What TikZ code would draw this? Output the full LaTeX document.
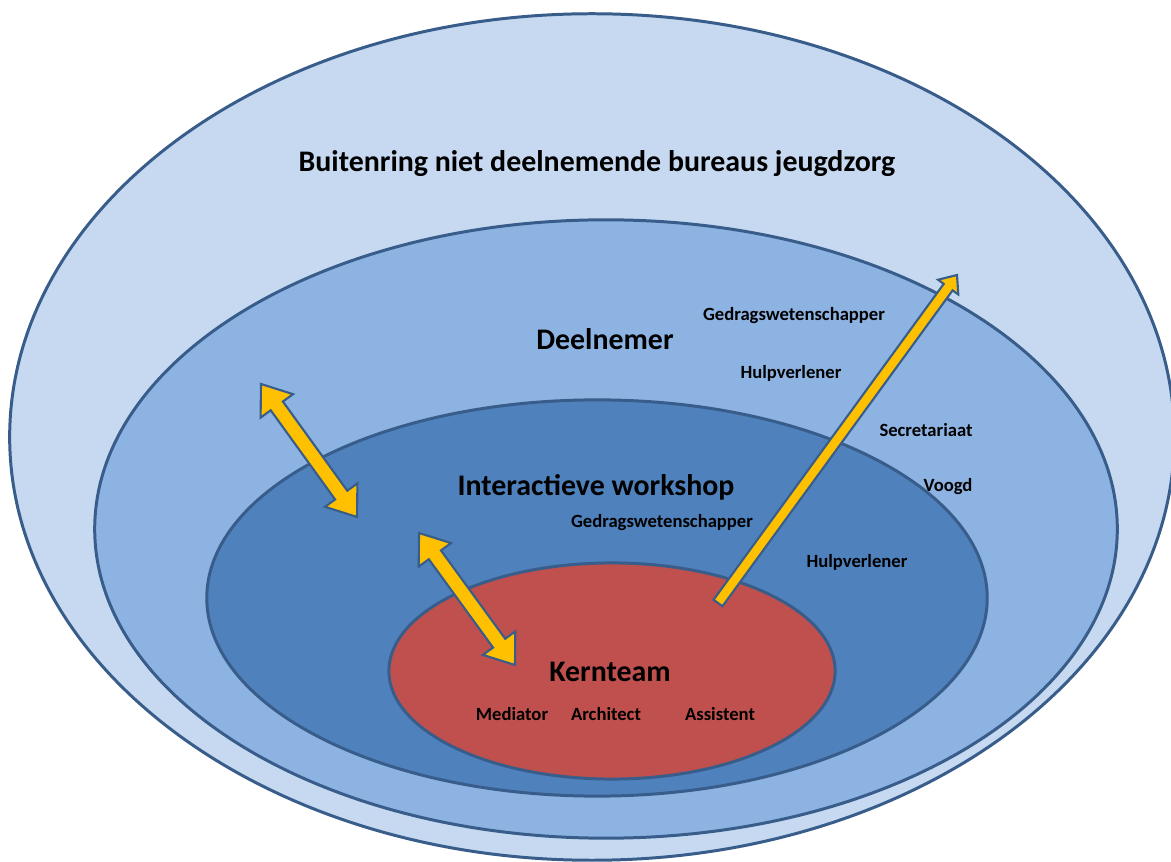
\documentclass[tikz,border=0pt]{standalone}
\usepackage{fontspec}
\setmainfont{Carlito}
\usetikzlibrary{shapes.geometric,calc}

\definecolor{ringouter}{HTML}{C6D9F1}
\definecolor{ringmid}{HTML}{8DB3E2}
\definecolor{ringinner}{HTML}{4F81BD}
\definecolor{corered}{HTML}{C0504D}
\definecolor{edgeblue}{HTML}{385D8A}
\definecolor{arrowgold}{HTML}{FFC000}

\tikzset{
  ring/.style={ellipse, draw=edgeblue, line width=0.85pt, inner sep=0pt},
  bigtitle/.style={font=\fontsize{8.5pt}{10pt}\selectfont\bfseries, inner sep=0pt},
  role/.style={font=\fontsize{5.3pt}{6pt}\selectfont\bfseries, inner sep=0pt},
  blockarrow/.style={fill=arrowgold, draw=edgeblue, line width=0.6pt, line join=miter},
}

% block arrow with heads at both ends: from, to, shaft half width, head half width, head length
\newcommand{\twowayarrow}[5]{%
  \draw[blockarrow] let \p1=($(#2)-(#1)$), \n1={atan2(\y1,\x1)} in
    (#1) -- ($(#1)+(\n1:#5)+(\n1+90:#4)$) -- ($(#1)+(\n1:#5)+(\n1+90:#3)$)
    -- ($(#2)+(\n1+180:#5)+(\n1+90:#3)$) -- ($(#2)+(\n1+180:#5)+(\n1+90:#4)$)
    -- (#2) -- ($(#2)+(\n1+180:#5)+(\n1-90:#4)$) -- ($(#2)+(\n1+180:#5)+(\n1-90:#3)$)
    -- ($(#1)+(\n1:#5)+(\n1-90:#3)$) -- ($(#1)+(\n1:#5)+(\n1-90:#4)$) -- cycle;
}
% block arrow with a single head at the second point
\newcommand{\onewayarrow}[5]{%
  \draw[blockarrow] let \p1=($(#2)-(#1)$), \n1={atan2(\y1,\x1)} in
    ($(#1)+(\n1+90:#3)$)
    -- ($(#2)+(\n1+180:#5)+(\n1+90:#3)$) -- ($(#2)+(\n1+180:#5)+(\n1+90:#4)$)
    -- (#2) -- ($(#2)+(\n1+180:#5)+(\n1-90:#4)$) -- ($(#2)+(\n1+180:#5)+(\n1-90:#3)$)
    -- ($(#1)+(\n1-90:#3)$) -- cycle;
}

\begin{document}
\begin{tikzpicture}[x=0.01cm, y=-0.01cm]
  \useasboundingbox (0,0) rectangle (1171,862);
  \clip (0,0) rectangle (1171,862);

  % nested rings
  \node[ring, fill=ringouter, minimum width=11.64cm, minimum height=8.46cm] (outer) at (592,437) {};
  \node[ring, fill=ringmid,   minimum width=10.22cm, minimum height=6.18cm] (mid)   at (606,529) {};
  \node[ring, fill=ringinner, minimum width=7.80cm,  minimum height=3.96cm] (inner) at (597,598) {};

  % arrow between participants and workshop
  \coordinate (a1s) at (261,384);
  \coordinate (a1e) at (357,517);
  \twowayarrow{a1s}{a1e}{0.075cm}{0.20cm}{0.27cm}

  % core team
  \node[ring, fill=corered, minimum width=4.46cm, minimum height=2.16cm] (core) at (612,671) {};

  % arrow between workshop and core team
  \coordinate (a2s) at (419,533);
  \coordinate (a2e) at (515,665);
  \twowayarrow{a2s}{a2e}{0.075cm}{0.20cm}{0.27cm}

  % arrow from core team outwards
  \coordinate (a3s) at (718,603);
  \coordinate (a3e) at (957,275);
  \onewayarrow{a3s}{a3e}{0.055cm}{0.125cm}{0.15cm}

  % ring titles
  \node[bigtitle] (tOuter) at (597,164) {Buitenring niet deelnemende bureaus jeugdzorg};
  \node[bigtitle] (tMid)   at (605,339) {Deelnemer};
  \node[bigtitle] (tInner) at (596,487) {Interactieve workshop};
  \node[bigtitle] (tCore)  at (610,672) {Kernteam};

  % roles
  \node[role] (rMidG)  at (794,316) {Gedragswetenschapper};
  \node[role] (rMidH)  at (791,373) {Hulpverlener};
  \node[role] (rMidS)  at (926,430) {Secretariaat};
  \node[role] (rMidV)  at (948,487) {Voogd};
  \node[role] (rInG)   at (662,523) {Gedragswetenschapper};
  \node[role] (rInH)   at (857,562) {Hulpverlener};
  \node[role] (rCoreM) at (512,714) {Mediator};
  \node[role] (rCoreA) at (606,714) {Architect};
  \node[role] (rCoreS) at (720,714) {Assistent};
\end{tikzpicture}
\end{document}
